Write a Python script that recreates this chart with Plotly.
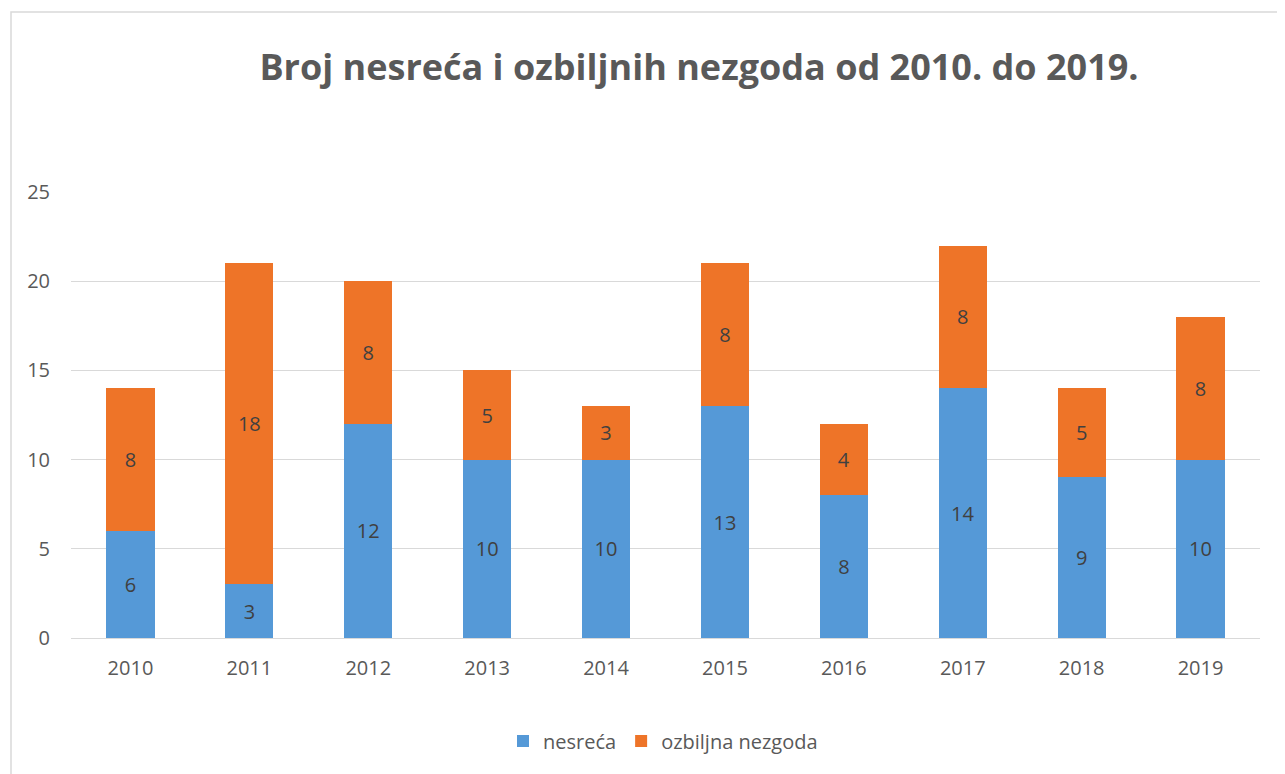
import plotly.graph_objects as go

years = ["2010", "2011", "2012", "2013", "2014", "2015", "2016", "2017", "2018", "2019"]
nesreca = [6, 3, 12, 10, 10, 13, 8, 14, 9, 10]
ozbiljna = [8, 18, 8, 5, 3, 8, 4, 8, 5, 8]
series_names = ["nesreća", "ozbiljna nezgoda"]
title_text = "Broj nesreća i ozbiljnih nezgoda od 2010. do 2019."
y_ticks = [0, 5, 10, 15, 20, 25]

OFF = 8  # default page body margin
W, H = 1285 - OFF, 774 - OFF
ml, mr = 71 - OFF, W - (1260 - OFF)
mt, mb = 192 - OFF, H - (638 - OFF)
pw, ph = W - ml - mr, H - mt - mb

font_family = "Open Sans, Liberation Sans, sans-serif"

fig = go.Figure()
fig.add_trace(go.Bar(
    x=years, y=nesreca, name=series_names[0],
    marker=dict(color="#5599D7", line=dict(width=0)),
    text=nesreca, textposition="inside", insidetextanchor="middle",
    textfont=dict(color="#404040", size=20, family=font_family),
))
fig.add_trace(go.Bar(
    x=years, y=ozbiljna, name=series_names[1],
    marker=dict(color="#EE7428", line=dict(width=0)),
    text=ozbiljna, textposition="inside", insidetextanchor="middle",
    textfont=dict(color="#404040", size=20, family=font_family),
))

# chart border
fig.add_shape(type="rect", xref="paper", yref="paper",
              x0=(11 - OFF - ml) / pw, x1=(W + 30 - ml) / pw,
              y0=-(H + 30 - mt - ph) / ph, y1=1 + (mt - (12 - OFF)) / ph,
              line=dict(color="#D9D9D9", width=1.5), layer="below")

fig.update_layout(
    width=W, height=H,
    margin=dict(l=ml, r=mr, t=mt, b=mb),
    barmode="stack",
    bargap=0.595,
    plot_bgcolor="white", paper_bgcolor="white",
    font=dict(family=font_family, color="#595959"),
    title=dict(text="<b>" + title_text + "</b>", x=(699 - OFF) / W, xanchor="center",
               y=1 - (67 - OFF) / H, yanchor="middle",
               font=dict(size=36, color="#595959", family=font_family)),
    xaxis=dict(showgrid=False, showline=False, ticks="", tickfont=dict(size=20, color="#595959"),
               ticklabelstandoff=16),
    yaxis=dict(range=[0, 25], tickvals=y_ticks, showgrid=True, gridcolor="#D9D9D9", gridwidth=1.3,
               zeroline=True, zerolinecolor="#D9D9D9", zerolinewidth=1.3,
               tickfont=dict(size=20, color="#595959"), ticklabelstandoff=20),
    legend=dict(orientation="h", x=(663 - OFF - ml) / pw, xanchor="center",
                y=-(741 - 638) / ph, yanchor="middle",
                font=dict(size=20, color="#595959"), traceorder="normal"),
    showlegend=True,
    uniformtext=dict(mode="show", minsize=10),
)

fig.write_html("out.html")
